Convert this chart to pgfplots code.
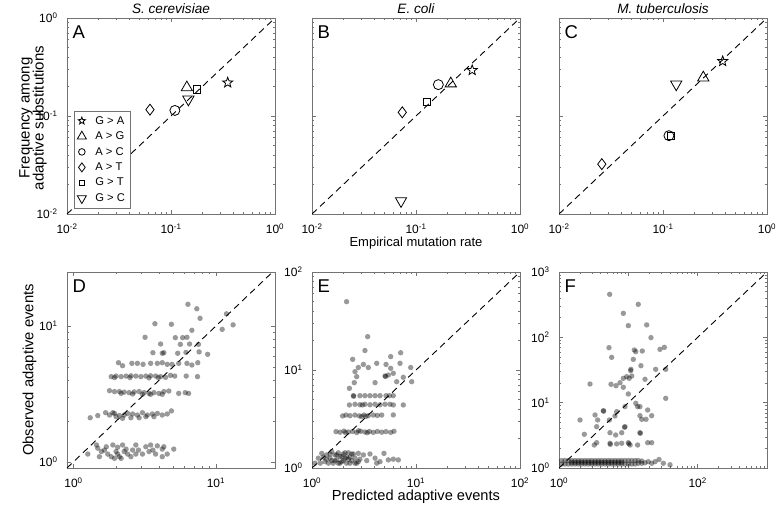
\documentclass[border=0pt]{standalone}
\usepackage{pgfplots}
\pgfplotsset{compat=1.18}
\usepackage{fontspec}
\setmainfont{Liberation Sans}
\setsansfont{Liberation Sans}

\pgfdeclareplotmark{fivestar}{%
 \pgfpathmoveto{\pgfpointpolar{90}{\pgfplotmarksize}}%
 \pgfpathlineto{\pgfpointpolar{126}{0.42\pgfplotmarksize}}%
 \pgfpathlineto{\pgfpointpolar{162}{\pgfplotmarksize}}%
 \pgfpathlineto{\pgfpointpolar{198}{0.42\pgfplotmarksize}}%
 \pgfpathlineto{\pgfpointpolar{234}{\pgfplotmarksize}}%
 \pgfpathlineto{\pgfpointpolar{270}{0.42\pgfplotmarksize}}%
 \pgfpathlineto{\pgfpointpolar{306}{\pgfplotmarksize}}%
 \pgfpathlineto{\pgfpointpolar{342}{0.42\pgfplotmarksize}}%
 \pgfpathlineto{\pgfpointpolar{18}{\pgfplotmarksize}}%
 \pgfpathlineto{\pgfpointpolar{54}{0.42\pgfplotmarksize}}%
 \pgfpathclose
 \pgfusepathqstroke
}

\pgfplotsset{
  mybase/.style={
    scale only axis, width=208pt, height=196pt,
    axis line style={black!55, line width=0.7pt},
    tick style={black!55, line width=0.5pt},
    tick align=inside, tick pos=both,
    major tick length=4pt, minor tick length=2.2pt,
    tick label style={font=\fontsize{12}{13}\selectfont},
    xticklabel style={yshift=-6pt},
    yticklabel style={xshift=-6pt},
    every axis title shift=0pt,
    title style={font=\fontsize{13.6}{15}\selectfont\itshape, at={(axis description cs:0.5,1.0485)}, anchor=center, inner sep=0pt},
  },
  mytop/.style={mybase, xmin=0.01, xmax=1, ymin=0.01, ymax=1,
    xtick={0.01,0.1,1}, ytick={0.01,0.1,1},
    xticklabels={10\textsuperscript{-2},10\textsuperscript{-1},10\textsuperscript{0}}},
  mymk/.style={only marks, black, line width=0.8pt, mark options={solid, fill=none}},
  mydiag/.style={black, line width=0.9pt, dash pattern=on 6.5pt off 4.5pt, forget plot},
  myscat/.style={only marks, mark=*, mark size=2.7pt, black, mark options={draw=black, draw opacity=0, fill=black, fill opacity=0.4}, forget plot},
}
\tikzset{myletter/.style={anchor=north west, inner sep=0pt, font=\fontsize{18.5}{20}\selectfont, xshift=5.5pt, yshift=-7.5pt}}

\begin{document}
\begin{tikzpicture}
\path[use as bounding box] (0,0) rectangle (777pt,512pt);

% ---------------- A ----------------
\begin{loglogaxis}[mytop, at={(67pt,298pt)}, anchor=south west,
  title={S. cerevisiae},
  yticklabels={10\textsuperscript{-2},10\textsuperscript{-1},10\textsuperscript{0}},
  ylabel={Frequency among\\adaptive substitutions},
  ylabel style={font=\fontsize{15}{14}\selectfont, align=center, at={(axis description cs:-0.163,0.49)}, anchor=center},
  legend style={at={(axis description cs:0.032,0.027)}, anchor=south west, draw=black!55, fill=white, inner sep=3.5pt, row sep=2.2pt, column sep=7pt, font=\fontsize{11.2}{12}\selectfont},
  legend cell align=left]
\addplot[mydiag] coordinates {(0.01,0.01) (1,1)};
\addplot[mymk, mark=fivestar, mark size=5.3pt, forget plot] coordinates {(0.351,0.219)};
\addplot[mymk, mark=triangle, mark size=6.5pt, forget plot] coordinates {(0.142,0.195)};
\addplot[mymk, mark=o, mark size=5pt, forget plot] coordinates {(0.109,0.114)};
\addplot[mymk, mark=diamond, mark size=5.5pt, forget plot] coordinates {(0.0628,0.116)};
\addplot[mymk, mark=square, mark size=3.6pt, forget plot] coordinates {(0.179,0.187)};
\addplot[mymk, mark=triangle, mark size=6.5pt, mark options={solid, fill=none, rotate=180}, forget plot] coordinates {(0.147,0.148)};
\addlegendimage{mymk, mark=fivestar, mark size=3.8pt}
\addlegendentry{G > A}
\addlegendimage{mymk, mark=triangle, mark size=5.2pt}
\addlegendentry{A > G}
\addlegendimage{mymk, mark=o, mark size=3.3pt}
\addlegendentry{A > C}
\addlegendimage{mymk, mark=diamond, mark size=4.5pt}
\addlegendentry{A > T}
\addlegendimage{mymk, mark=square, mark size=2.8pt}
\addlegendentry{G > T}
\addlegendimage{mymk, mark=triangle, mark size=5.2pt, mark options={solid, fill=none, rotate=180}}
\addlegendentry{G > C}
\node[myletter] at (rel axis cs:0,1) {A};
\end{loglogaxis}

% ---------------- B ----------------
\begin{loglogaxis}[mytop, at={(312pt,298pt)}, anchor=south west,
  title={E. coli}, yticklabels={},
  xlabel={Empirical mutation rate},
  xlabel style={font=\fontsize{13}{14}\selectfont, at={(axis description cs:0.5,-0.15)}, anchor=center}]
\addplot[mydiag] coordinates {(0.01,0.01) (1,1)};
\addplot[mymk, mark=fivestar, mark size=5.3pt] coordinates {(0.347,0.293)};
\addplot[mymk, mark=triangle, mark size=6.5pt] coordinates {(0.216,0.214)};
\addplot[mymk, mark=o, mark size=5pt] coordinates {(0.164,0.209)};
\addplot[mymk, mark=diamond, mark size=5.5pt] coordinates {(0.0738,0.109)};
\addplot[mymk, mark=square, mark size=3.6pt] coordinates {(0.127,0.140)};
\addplot[mymk, mark=triangle, mark size=6.5pt, mark options={solid, fill=none, rotate=180}] coordinates {(0.0718,0.0136)};
\node[myletter] at (rel axis cs:0,1) {B};
\end{loglogaxis}

% ---------------- C ----------------
\begin{loglogaxis}[mytop, at={(559pt,298pt)}, anchor=south west,
  title={M. tuberculosis}, yticklabels={}]
\addplot[mydiag] coordinates {(0.01,0.01) (1,1)};
\addplot[mymk, mark=fivestar, mark size=5.3pt] coordinates {(0.375,0.362)};
\addplot[mymk, mark=triangle, mark size=6.5pt] coordinates {(0.244,0.246)};
\addplot[mymk, mark=o, mark size=5pt] coordinates {(0.114,0.063)};
\addplot[mymk, mark=diamond, mark size=5.5pt] coordinates {(0.0258,0.0323)};
\addplot[mymk, mark=square, mark size=3.6pt] coordinates {(0.119,0.063)};
\addplot[mymk, mark=triangle, mark size=6.5pt, mark options={solid, fill=none, rotate=180}] coordinates {(0.134,0.211)};
\node[myletter] at (rel axis cs:0,1) {C};
\end{loglogaxis}

% ---------------- D ----------------
\begin{loglogaxis}[mybase, at={(67pt,44pt)}, anchor=south west,
  xmin=0.9, xmax=26, ymin=0.9, ymax=25,
  xtick={1,10}, ytick={1,10},
  xticklabels={10\textsuperscript{0},10\textsuperscript{1}},
  yticklabels={10\textsuperscript{0},10\textsuperscript{1}},
  ylabel={Observed adaptive events},
  ylabel style={font=\fontsize{14.8}{15}\selectfont, at={(axis description cs:-0.18,0.5)}, anchor=center}]
\addplot[myscat] coordinates {
(6.36,14.45) (7.34,13.4) (11.86,12.3) (7.74,11.4) (13.2,10.2) (11.07,9.45) (4.87,10.3) (3.73,10.4)
(3.18,8.26) (6.78,9.3) (5.84,8.21) (5.19,8.21) (6.26,8.26) (4.09,7.37) (6.53,7.37) (5.63,7.33) (7.54,7.33)
(3.61,6.36) (4.31,6.36) (4.20,6.30) (5.39,6.30) (6.16,6.39) (7.62,6.45) (8.75,6.19)
(2.07,5.37) (2.21,5.10) (2.57,5.31) (2.81,5.31) (3.08,5.22) (3.48,5.31) (3.88,5.31) (4.20,5.37) (4.55,5.22)
(4.92,5.22) (5.48,5.31) (6.26,5.31) (6.78,5.16) (7.46,5.37) (7.42,4.24) (6.19,4.28) (5.14,4.28)
(5.48,3.19) (6.09,3.23) (6.43,3.19)
(1.84,4.24) (1.99,4.28) (2.16,4.24) (2.34,4.28) (2.53,4.30) (2.74,4.28) (2.97,4.24) (3.22,4.28) (3.48,4.30)
(3.77,4.28) (4.09,4.24) (4.43,4.19) (4.80,4.33) (1.94,4.17) (2.49,4.17) (3.39,4.15) (3.94,4.17)
(1.79,3.34) (1.94,3.29) (2.10,3.29) (2.27,3.26) (2.46,3.23) (2.67,3.27) (2.89,3.29) (3.13,3.23) (3.39,3.19)
(3.67,3.23) (3.98,3.19) (4.31,3.29) (4.67,3.32) (3.05,3.14) (3.48,3.14) (4.20,3.14) (2.16,3.19) (2.60,3.16)
(1.31,2.11) (1.48,2.19) (1.68,2.30) (1.79,2.21) (1.94,2.27) (2.10,2.19) (2.27,2.21) (2.40,2.27) (2.60,2.25)
(2.81,2.21) (3.05,2.30) (3.30,2.21) (3.58,2.25) (3.88,2.27) (4.20,2.21) (4.55,2.25) (4.87,2.37) (2.89,2.11)
(3.22,2.15) (1.99,2.15) (2.21,2.09) (2.53,2.11) (3.67,2.15) (1.89,2.30)
(1.26,1.14) (1.45,1.33) (1.48,1.26) (1.57,1.19) (1.65,1.22) (1.74,1.14) (1.84,1.09) (1.94,1.06) (2.04,1.14)
(1.89,1.33) (2.04,1.28) (2.21,1.33) (2.34,1.24) (2.40,1.14) (2.53,1.09) (2.74,1.33) (2.86,1.22) (3.05,1.14)
(3.22,1.29) (3.48,1.33) (3.61,1.22) (3.88,1.31) (4.20,1.24) (4.20,1.09) (4.55,1.14) (4.31,1.29) (5.06,1.24)
(2.10,1.09) (2.27,1.19) (1.70,1.29) (1.99,1.19) (2.16,1.06) (2.60,1.22) (2.74,1.14) (3.39,1.19) (3.77,1.14)
(1.52,1.09)
};
\addplot[mydiag] coordinates {(0.9,0.9) (26,26)};
\node[myletter] at (rel axis cs:0,1) {D};
\end{loglogaxis}

% ---------------- E ----------------
\begin{loglogaxis}[mybase, at={(312pt,44pt)}, anchor=south west,
  xmin=1, xmax=100, ymin=1, ymax=100,
  xtick={1,10,100}, ytick={1,10,100},
  xticklabels={10\textsuperscript{0},10\textsuperscript{1},10\textsuperscript{2}},
  yticklabels={10\textsuperscript{0},10\textsuperscript{1},10\textsuperscript{2}},
  xlabel={Predicted adaptive events},
  xlabel style={font=\fontsize{14.6}{15}\selectfont, at={(axis description cs:0.5,-0.145)}, anchor=center}]
\addplot[myscat] coordinates {
(2.15,49.8) (3.43,21.9) (3.23,15.8) (2.46,12.85) (3.12,11.4) (2.79,10.6) (3.48,10.6) (4.19,11.7) (5.15,11.4)
(5.71,13.7) (7.12,15.0) (8.89,10.6) (9.09,7.6) (7.55,8.42) (7.02,11.7) (5.71,10.4) (6.05,9.25) (5.42,8.89)
(5.04,8.69) (5.10,8.60) (6.52,7.6) (2.59,9.62) (2.69,8.55) (2.55,7.43) (2.29,6.5) (4.04,7.43) (7.55,4.40)
(6.05,4.40) (6.05,3.48) (5.04,4.47) (5.15,5.47)
(2.50,5.47) (2.52,5.40) (2.89,5.47) (3.23,5.47) (3.61,5.47) (4.04,5.47) (4.51,5.47) (5.54,5.47) (6.05,5.47)
(2.29,4.40) (2.59,4.47) (2.89,4.42) (3.23,4.47) (3.61,4.42) (4.04,4.47) (4.51,4.42) (5.62,4.47) (3.05,4.40)
(1.97,3.40) (2.12,3.47) (2.32,3.42) (2.59,3.47) (2.85,3.40) (3.16,3.47) (3.48,3.42) (3.89,3.47) (4.25,3.44)
(4.68,3.47) (3.00,3.35) (3.30,3.36)
(1.70,2.35) (1.86,2.32) (2.03,2.38) (2.24,2.33) (2.46,2.36) (2.69,2.30) (2.94,2.37) (3.23,2.33) (3.56,2.36)
(3.89,2.31) (4.25,2.36) (4.68,2.32) (5.15,2.35) (5.71,2.31) (6.15,2.37) (2.10,2.30) (2.80,2.40) (3.40,2.29)
(1.07,1.12) (1.15,1.26) (1.24,1.41) (1.33,1.16) (1.38,1.36) (1.49,1.26) (1.55,1.47) (1.60,1.12) (1.66,1.36)
(1.73,1.21) (1.79,1.43) (1.86,1.31) (1.93,1.16) (2.00,1.39) (2.08,1.26) (2.15,1.12) (2.24,1.43) (2.32,1.29)
(2.41,1.19) (2.50,1.39) (2.59,1.26) (2.69,1.12) (2.79,1.41) (2.89,1.23) (3.12,1.36) (3.36,1.19) (3.61,1.39)
(4.04,1.26) (4.51,1.16) (4.92,1.41) (5.42,1.21) (6.05,1.23) (6.76,1.21) (4.19,1.12) (2.79,1.16) (1.44,1.12)
(1.29,1.29) (2.32,1.12) (1.79,1.12) (2.08,1.43) (1.20,1.12) (1.38,1.23) (1.55,1.19) (1.73,1.36) (1.93,1.31)
(2.15,1.29) (2.41,1.39) (2.59,1.12) (1.66,1.19) (1.49,1.39) (2.00,1.19) (1.86,1.12) (2.24,1.23)
};
\addplot[mydiag] coordinates {(1,1) (100,100)};
\node[myletter] at (rel axis cs:0,1) {E};
\end{loglogaxis}

% ---------------- F ----------------
\begin{loglogaxis}[mybase, at={(559pt,44pt)}, anchor=south west,
  xmin=1, xmax=1000, ymin=1, ymax=1000,
  xtick={1,10,100,1000}, ytick={1,10,100,1000},
  xticklabels={10\textsuperscript{0},{},10\textsuperscript{2},{}},
  yticklabels={10\textsuperscript{0},10\textsuperscript{1},10\textsuperscript{2},10\textsuperscript{3}}]
\addplot[myscat] coordinates {
(5.38,455) (13.9,320) (8.47,233) (10.0,151) (18.4,155) (21.2,98.9) (5.26,69.5) (5.75,49.4) (12.2,64)
(12.8,60.3) (15.9,61.8) (28.6,65.5) (33.1,70.3) (11.8,46) (10.9,32.4) (10.8,30.9) (15.2,36.8) (24.8,32.4)
(34.6,32.4) (2.80,19.3) (5.62,19.1) (6.64,18.2) (7.59,20.2) (8.47,23.6) (9.46,25) (10.3,23.6) (11.2,25.6)
(8.47,17.2) (10.0,13.6) (17.4,22.8) (34.6,11.65) (8.95,8.69) (12.8,9.78) (13.6,8.69) (14.7,8.69) (14.7,6.32)
(15.6,5.56) (18.0,5.56) (21.7,6.32) (19.0,7.73) (4.36,7.55) (4.40,7.40) (3.31,6.48) (3.61,5.43) (2.01,5.43)
(3.49,4.29) (5.32,5.43) (6.79,7.28) (6.42,6.25) (8.95,4.29) (8.80,4.20) (5.44,3.47) (6.57,3.20) (8.02,3.47)
(2.32,3.28) (14.7,3.47) (14.9,3.40) (19.0,2.44) (21.7,2.44) (3.23,2.25) (3.49,2.44) (5.44,2.39) (5.50,2.30)
(6.79,2.34) (8.02,2.39) (10.0,2.44) (10.6,2.25) (10.2,2.35) (13.6,2.25)
(1.09,1.15) (1.09,1.30) (1.22,1.15) (1.22,1.30) (1.36,1.15) (1.36,1.30) (1.52,1.15) (1.52,1.30) (1.52,1.22)
(1.70,1.15) (1.70,1.30) (1.70,1.22) (1.90,1.15) (1.90,1.30) (1.90,1.22) (2.12,1.15) (2.12,1.30) (2.12,1.22)
(2.37,1.15) (2.37,1.30) (2.37,1.22) (2.65,1.15) (2.65,1.30) (2.65,1.22) (2.96,1.15) (2.96,1.30) (2.96,1.22)
(3.31,1.15) (3.31,1.30) (3.31,1.22) (3.69,1.15) (3.69,1.30) (3.69,1.22) (4.12,1.15) (4.12,1.30) (4.12,1.22)
(4.61,1.15) (4.61,1.30) (4.61,1.22) (5.15,1.15) (5.15,1.30) (5.15,1.22) (5.75,1.15) (5.75,1.30) (5.75,1.22)
(6.43,1.15) (6.43,1.30) (6.43,1.22) (7.18,1.15) (7.18,1.30) (7.18,1.22) (8.02,1.15) (8.02,1.30) (8.02,1.22)
(8.95,1.15) (8.95,1.30) (10.0,1.15) (10.0,1.30) (11.2,1.15) (11.2,1.30) (12.5,1.15) (12.5,1.30) (13.9,1.18)
(13.9,1.30) (15.6,1.18) (15.6,1.28) (17.4,1.20) (19.4,1.25) (21.7,1.18) (24.3,1.25) (27.7,1.35) (32.0,1.18)
(39.9,1.12)
};
\addplot[mydiag] coordinates {(1,1) (1000,1000)};
\node[myletter] at (rel axis cs:0,1) {F};
\end{loglogaxis}
\end{tikzpicture}
\end{document}
